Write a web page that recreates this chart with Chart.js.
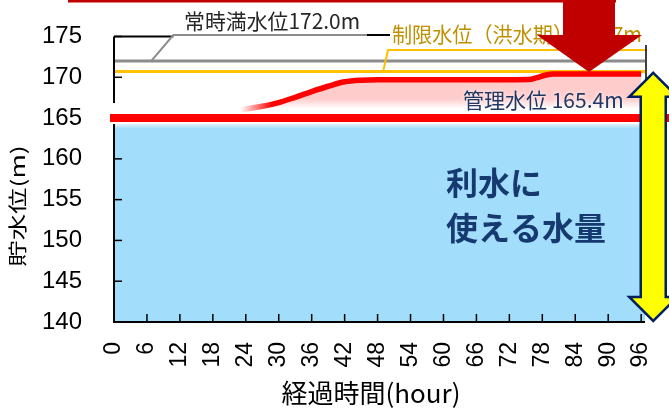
<!DOCTYPE html>
<html>
<head>
<meta charset="utf-8">
<script src="https://cdn.jsdelivr.net/npm/chart.js"></script>
<style>
  html, body { margin: 0; padding: 0; background: #fff; }
  #wrap { width: 669px; height: 410px; position: relative; }
</style>
</head>
<body>
<div id="wrap"><canvas id="chart"></canvas></div>
<script>
// axis ticks
const hourTicks = [0, 6, 12, 18, 24, 30, 36, 42, 48, 54, 60, 66, 72, 78, 84, 90, 96];
const levelTicks = [140, 145, 150, 155, 160, 165, 170, 175];
const hourMax = 96.7;

// reservoir level curve (red)
const curveHours = [23, 27, 30, 33, 36, 39, 42, 45, 48, 60, 72, 75.5, 77, 78.5, 80, 96];
const curveLevels = [166.0, 166.45, 166.9, 167.55, 168.25, 168.9, 169.45, 169.65, 169.7, 169.7, 169.7, 169.72, 169.95, 170.25, 170.4, 170.4];

// reference levels
const normalFullLevel = 172.0;   // 常時満水位
const floodLimitLevel = 170.7;   // 制限水位（洪水期）
const managementLine = 165.0;    // 管理水位 (drawn)
const usableTop = 164.3;         // 利水に使える水量

const JP = '"Noto Sans CJK JP", sans-serif';

function span(level) {
  return [{x: 0, y: level}, {x: hourMax, y: level}];
}

function line(ctx, x1, y1, x2, y2) {
  ctx.beginPath();
  ctx.moveTo(x1, y1);
  ctx.lineTo(x2, y2);
  ctx.stroke();
}

// keep the plot box where the layout padding puts it
function noPad(s) {
  s.paddingLeft = 0;
  s.paddingRight = 0;
  s.paddingTop = 0;
  s.paddingBottom = 0;
}

const decor = {
  id: 'decor',
  afterDatasetsDraw(chart) {
    const {ctx, chartArea: a, scales: {x, y}} = chart;
    const W = chart.width;
    ctx.save();

    // axes with inward ticks
    ctx.strokeStyle = '#000';
    ctx.lineWidth = 2;
    ctx.beginPath();
    ctx.moveTo(a.left, a.top);
    ctx.lineTo(a.left, a.bottom);
    ctx.lineTo(a.right, a.bottom);
    ctx.stroke();
    ctx.lineWidth = 1.5;
    levelTicks.forEach(v => {
      const py = y.getPixelForValue(v);
      line(ctx, a.left, py, a.left + 8, py);
    });
    hourTicks.forEach(h => {
      const px = x.getPixelForValue(h);
      line(ctx, px, a.bottom, px, a.bottom - 8);
    });

    // 管理水位 thick line
    const ym = y.getPixelForValue(managementLine);
    ctx.fillStyle = '#fff';
    ctx.fillRect(a.left - 3, ym - 15, 6, 21);
    ctx.strokeStyle = '#ff0000';
    ctx.lineWidth = 8;
    line(ctx, a.left - 4, ym, W, ym);

    // 常時満水位 label + leader
    const yn = y.getPixelForValue(normalFullLevel);
    const xl = x.getPixelForValue(6.8);
    ctx.lineWidth = 2;
    ctx.strokeStyle = '#000';
    line(ctx, a.left, a.top, xl + 22, a.top);
    ctx.strokeStyle = '#8c8c8c';
    ctx.beginPath();
    ctx.moveTo(xl, yn);
    ctx.lineTo(xl + 22, a.top - 1.5);
    ctx.lineTo(367, a.top - 1.5);
    ctx.stroke();
    ctx.strokeStyle = '#000';
    line(ctx, 367, a.top - 1.5, 390, a.top - 1.5);
    ctx.font = '21px ' + JP;
    ctx.fillStyle = '#262626';
    ctx.textAlign = 'left';
    ctx.textBaseline = 'middle';
    ctx.fillText('常時満水位172.0m', 184, 21, 176);

    // 制限水位 label + leader
    const yf = y.getPixelForValue(floodLimitLevel);
    const xf = x.getPixelForValue(49);
    ctx.strokeStyle = '#ffc000';
    ctx.beginPath();
    ctx.moveTo(xf, yf);
    ctx.lineTo(xf + 5, 50);
    ctx.lineTo(a.right + 2, 50);
    ctx.stroke();
    ctx.fillStyle = '#bf9000';
    ctx.fillText('制限水位（洪水期）170.7m', 392, 34, 250);

    // right frame stub
    ctx.strokeStyle = '#000';
    ctx.lineWidth = 1.5;
    line(ctx, a.right + 1, 45, a.right + 1, 80);

    // 管理水位 text
    ctx.save();
    ctx.shadowColor = 'rgba(255,255,255,0.9)';
    ctx.shadowBlur = 4;
    ctx.fillStyle = '#1f3864';
    ctx.fillText('管理水位 165.4m', 463, 100, 162);
    ctx.restore();

    // 利水に使える水量
    ctx.font = 'bold 32px ' + JP;
    ctx.fillStyle = '#163a70';
    ctx.fillText('利水に', 446, 183);
    ctx.fillText('使える水量', 446, 228);

    // top red bar
    ctx.fillStyle = '#c00000';
    ctx.fillRect(68, 0, 548, 2.5);

    // big down arrow
    const ax = x.getPixelForValue(86.5);
    const tipY = y.getPixelForValue(curveLevels[curveLevels.length - 1]) - 2;
    ctx.beginPath();
    ctx.moveTo(ax - 26, 0);
    ctx.lineTo(ax + 26, 0);
    ctx.lineTo(ax + 26, 35);
    ctx.lineTo(ax + 53, 35);
    ctx.lineTo(ax, tipY);
    ctx.lineTo(ax - 52, 35);
    ctx.lineTo(ax - 26, 35);
    ctx.closePath();
    ctx.fill();

    // yellow double arrow
    const bx = x.getPixelForValue(98.2);
    const top = y.getPixelForValue(170.55);
    const bot = a.bottom - 1;
    ctx.beginPath();
    ctx.moveTo(bx, top);
    ctx.lineTo(bx + 24, top + 24);
    ctx.lineTo(bx + 12.5, top + 24);
    ctx.lineTo(bx + 12.5, bot - 24);
    ctx.lineTo(bx + 24, bot - 24);
    ctx.lineTo(bx, bot);
    ctx.lineTo(bx - 24, bot - 24);
    ctx.lineTo(bx - 12.5, bot - 24);
    ctx.lineTo(bx - 12.5, top + 24);
    ctx.lineTo(bx - 24, top + 24);
    ctx.closePath();
    ctx.fillStyle = '#ffff00';
    ctx.fill();
    ctx.strokeStyle = '#002060';
    ctx.lineWidth = 2.5;
    ctx.lineJoin = 'miter';
    ctx.stroke();

    // axis titles
    ctx.fillStyle = '#000';
    ctx.textAlign = 'center';
    ctx.font = '26px ' + JP;
    ctx.fillText('経過時間(hour)', 371, 393);
    ctx.save();
    ctx.translate(18, 206);
    ctx.rotate(-Math.PI / 2);
    ctx.scale(1.1, 0.8);
    ctx.font = '24px ' + JP;
    ctx.fillText('貯水位(m)', 0, 0);
    ctx.restore();

    ctx.restore();
  }
};

const ctx = document.getElementById('chart').getContext('2d');
const chart = new Chart(ctx, {
  type: 'line',
  data: {
    datasets: [
      {
        label: '貯水位',
        data: curveHours.map((h, i) => ({x: h, y: curveLevels[i]})),
        borderWidth: 5.5,
        cubicInterpolationMode: 'monotone',
        borderColor: (c) => {
          const ch = c.chart;
          if (!ch.chartArea) return '#ff0000';
          const x0 = ch.scales.x.getPixelForValue(curveHours[0]);
          const g = ch.ctx.createLinearGradient(x0, 0, x0 + 32, 0);
          g.addColorStop(0, 'rgba(255,0,0,0)');
          g.addColorStop(1, 'rgba(255,0,0,1)');
          return g;
        },
        backgroundColor: (c) => {
          const ch = c.chart;
          if (!ch.chartArea) return '#ffcccc';
          const ys = ch.scales.y;
          const g = ch.ctx.createLinearGradient(0, ys.getPixelForValue(167.4), 0, ys.getPixelForValue(166.1));
          g.addColorStop(0, 'rgba(255,204,204,1)');
          g.addColorStop(1, 'rgba(255,204,204,0)');
          return g;
        },
        fill: {value: 165.6}
      },
      {
        label: '制限水位',
        data: span(floodLimitLevel),
        borderColor: '#ffc000',
        borderWidth: 3
      },
      {
        label: '常時満水位',
        data: span(normalFullLevel),
        borderColor: '#8c8c8c',
        borderWidth: 3
      },
      {
        label: '利水容量',
        data: span(usableTop),
        borderWidth: 0,
        borderColor: 'rgba(0,0,0,0)',
        backgroundColor: (c) => {
          const ch = c.chart;
          if (!ch.chartArea) return '#a2ddfb';
          const py = ch.scales.y.getPixelForValue(usableTop);
          const g = ch.ctx.createLinearGradient(0, py, 0, py + 5);
          g.addColorStop(0, 'rgba(162,221,251,0.3)');
          g.addColorStop(1, 'rgba(162,221,251,1)');
          return g;
        },
        fill: 'start'
      }
    ]
  },
  options: {
    responsive: true,
    maintainAspectRatio: false,
    devicePixelRatio: 1,
    animation: false,
    layout: { padding: { left: 0, right: 24, top: 36.5, bottom: 0 } },
    elements: { point: { radius: 0 }, line: { tension: 0 } },
    plugins: { legend: { display: false }, tooltip: { enabled: false } },
    scales: {
      x: {
        type: 'linear',
        min: 0,
        max: hourMax,
        grid: { display: false, drawTicks: false },
        border: { display: false },
        afterBuildTicks: (s) => { s.ticks = hourTicks.map(v => ({value: v})); },
        afterFit: (s) => { s.height = 88; noPad(s); },
        ticks: {
          autoSkip: false,
          minRotation: 90,
          maxRotation: 90,
          padding: 20,
          color: '#000',
          font: { family: '"Liberation Sans", Arial, sans-serif', size: 23 }
        }
      },
      y: {
        min: 140,
        max: 175,
        grid: { display: false, drawTicks: false },
        border: { display: false },
        afterBuildTicks: (s) => { s.ticks = levelTicks.map(v => ({value: v})); },
        afterFit: (s) => { s.width = 114; noPad(s); },
        ticks: {
          padding: 32,
          color: '#000',
          font: { family: '"Liberation Sans", Arial, sans-serif', size: 24 }
        }
      }
    }
  },
  plugins: [decor]
});
</script>
</body>
</html>
